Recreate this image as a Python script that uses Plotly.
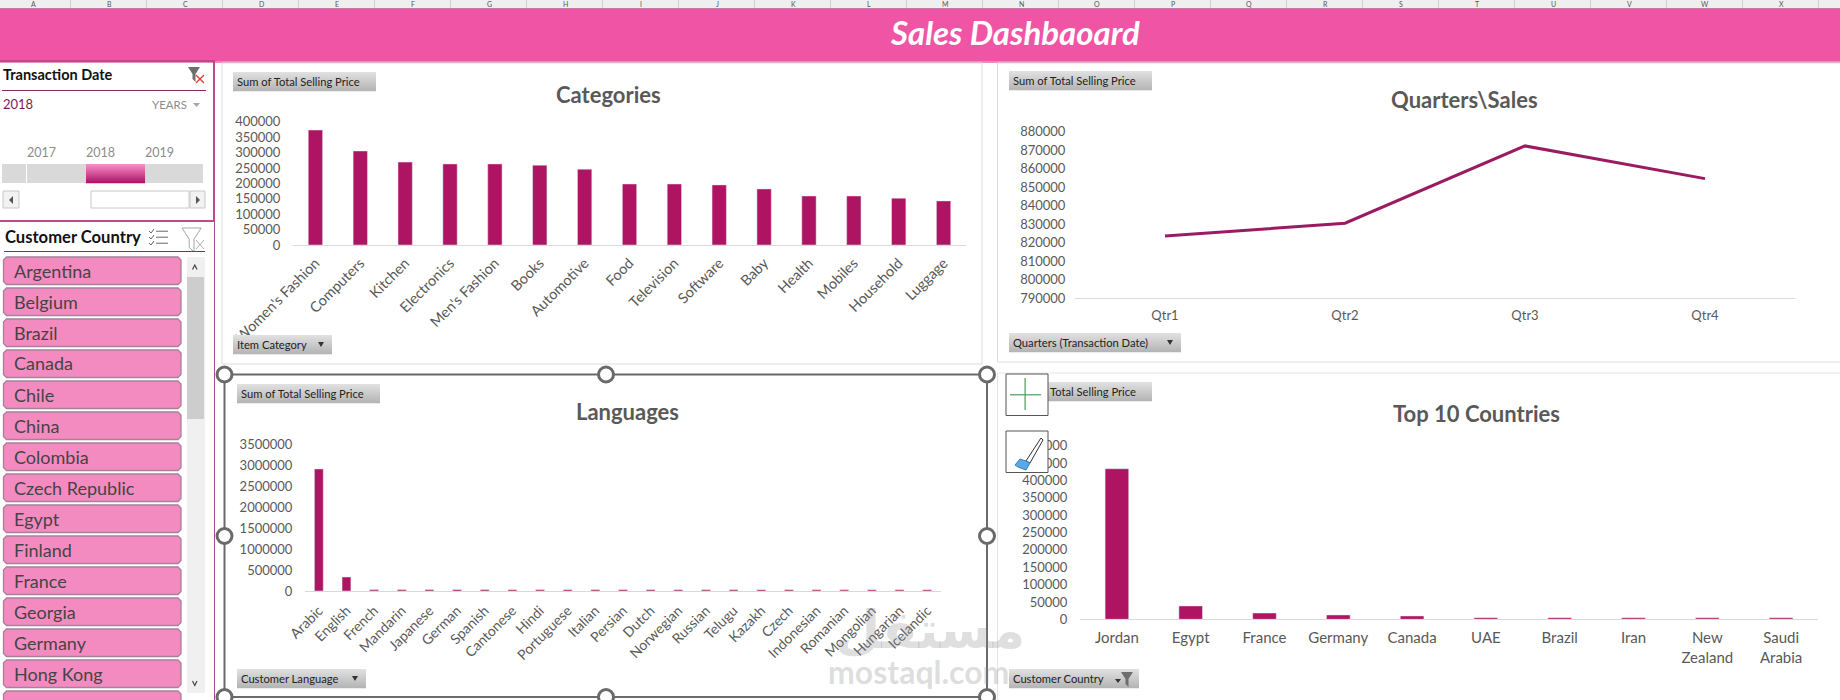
import plotly.graph_objects as go

W, H = 1840, 700

# ---------- data ----------
item_categories = ["Women's Fashion", "Computers", "Kitchen", "Electronics", "Men's Fashion", "Books",
                   "Automotive", "Food", "Television", "Software", "Baby", "Health", "Mobiles",
                   "Household", "Luggage"]
item_sales = [373000, 305000, 269000, 263000, 263000, 259000, 246000, 198000, 198000, 195000,
              182000, 159000, 159000, 152000, 143000]

quarters = ["Qtr1", "Qtr2", "Qtr3", "Qtr4"]
quarter_sales = [823500, 830500, 872300, 854600]

languages = ["Arabic", "English", "French", "Mandarin", "Japanese", "German", "Spanish", "Cantonese",
             "Hindi", "Portuguese", "Italian", "Persian", "Dutch", "Norwegian", "Russian", "Telugu",
             "Kazakh", "Czech", "Indonesian", "Romanian", "Mongolian", "Hungarian", "Icelandic"]
language_sales = [2920000, 335000, 34000, 33000, 33000, 33000, 33000, 32000, 32000, 32000, 32000,
                  32000, 32000, 31000, 31000, 31000, 31000, 31000, 31000, 30000, 30000, 30000, 30000]

top_countries = ["Jordan", "Egypt", "France", "Germany", "Canada", "UAE", "Brazil", "Iran",
                 "New<br>Zealand", "Saudi<br>Arabia"]
top_country_sales = [433600, 38500, 18000, 12500, 9600, 4500, 4500, 4300, 4300, 4200]

slicer_countries = ["Argentina", "Belgium", "Brazil", "Canada", "Chile", "China", "Colombia",
                    "Czech Republic", "Egypt", "Finland", "France", "Georgia", "Germany", "Hong Kong"]
slicer_years = ["2017", "2018", "2019"]
column_letters = list("ABCDEFGHIJKLMNOPQRSTUVWX")

# ---------- style ----------
FONT = "Lato"
BAR = "#AF1463"
LINE = "#9B1B62"
PINK = "#F054A5"
TXT = "#595959"

shapes, notes = [], []


def fx(x):
    return x / W


def fy(y):
    return 1 - y / H


def rect(x0, y0, x1, y1, fill="rgba(0,0,0,0)", line=None, lw=1, kind="rect"):
    shapes.append(dict(type=kind, xref="paper", yref="paper", x0=fx(x0), x1=fx(x1), y0=fy(y1), y1=fy(y0),
                       fillcolor=fill, line=dict(color=line or "rgba(0,0,0,0)", width=lw if line else 0),
                       layer="above"))


def poly(points, fill="rgba(0,0,0,0)", line=None, lw=1, close=True):
    p = "M " + " L ".join(f"{fx(a):.5f} {fy(b):.5f}" for a, b in points) + (" Z" if close else "")
    shapes.append(dict(type="path", xref="paper", yref="paper", path=p, fillcolor=fill,
                       line=dict(color=line or "rgba(0,0,0,0)", width=lw if line else 0), layer="above"))


def text(x, y, s, size=13, color=TXT, anchor="left", bold=False, font=FONT, italic=False):
    s2 = f"<b>{s}</b>" if bold else s
    s2 = f"<i>{s2}</i>" if italic else s2
    notes.append(dict(xref="paper", yref="paper", x=fx(x), y=fy(y), text=s2, showarrow=False,
                      xanchor=anchor, yanchor="middle", borderpad=0,
                      font=dict(family=font, size=size, color=color)))


def mix(a, b, t):
    ca = [int(a[i:i + 2], 16) for i in (1, 3, 5)]
    cb = [int(b[i:i + 2], 16) for i in (1, 3, 5)]
    return "#" + "".join(f"{round(p + (q - p) * t):02x}" for p, q in zip(ca, cb))


def gradient(x0, y0, x1, y1, top, bottom):
    n = int(y1 - y0)
    for i in range(n):
        rect(x0, y0 + i, x1, y0 + i + 1.2, fill=mix(top, bottom, i / max(n - 1, 1)))


def field_button(x0, y0, x1, label, arrow=True, text_x=None):
    gradient(x0, y0, x1, y0 + 19, "#E0E0E0", "#B5B5B5")
    text(text_x if text_x else x0 + 3, y0 + 9.5, label, size=11.2, color="#222222")
    if arrow:
        ax = x1 - 11
        poly([(ax - 3, y0 + 7), (ax + 3, y0 + 7), (ax, y0 + 12)], fill="#333333")


def funnel(x, y, s=1.0, fill="#7F7F7F", line=None):
    poly([(x, y), (x + 12 * s, y), (x + 7.5 * s, y + 7 * s), (x + 7.5 * s, y + 15 * s),
          (x + 4.5 * s, y + 12 * s), (x + 4.5 * s, y + 7 * s)], fill=fill, line=line)


# ---------- sheet chrome ----------
rect(0, 0, W, 8, fill="#EFEFEF")
for i, c in enumerate(column_letters):
    text(33 + 76 * i, 4, c, size=7, color="#555555", anchor="center")
    rect(70 + 76 * i, 0, 70.8 + 76 * i, 8, fill="#C8C8C8")
rect(0, 8, W, 9.5, fill="#C77AA5")
rect(0, 9, W, 62, fill=PINK)
rect(0, 61, W, 63, fill="#E48DBE")
text(1015, 32, "Sales Dashbaoard", size=33, color="#FFFFFF", anchor="center", bold=True, italic=True)

# chart panels
rect(222, 63, 982, 364, line="#DCDCDC")
rect(997.5, 63, W + 2, 362, line="#DCDCDC")
rect(997.5, 373, W + 2, H + 3, line="#E4E4E4")

# ---------- date slicer ----------
rect(-2, 61, 214, 221, line="#BE4A8C", lw=2)
text(2, 75, "Transaction Date", size=14.5, color="#111111", bold=True)
funnel(188, 67, 1.0, fill="#6E6E6E")
poly([(196, 75), (204, 83)], line="#D9412F", lw=1.3, close=False)
poly([(204, 75), (196, 83)], line="#D9412F", lw=1.3, close=False)
rect(2, 90, 206, 91, fill="#8A2A68")
text(2, 104, "2018", size=13, color="#7A1B5C")
text(151, 104, "YEARS", size=11.5, color="#8C8C8C")
poly([(193, 103), (200, 103), (196.5, 107)], fill="#A6A6A6")
for year, cx in zip(slicer_years, [41, 100, 159]):
    text(cx, 152.5, year, size=12.5, color="#8C8C8C", anchor="center")
rect(2, 164, 203, 183, fill="#D9D9D9")
rect(26, 164, 27, 183, fill="#FFFFFF")
gradient(86, 164, 145, 183, "#F68FC4", "#B0146A")
# timeline scrollbar
rect(3, 191, 19, 208, fill="#F2F2F2", line="#C8C8C8")
poly([(13, 196), (13, 204), (9, 200)], fill="#555555")
rect(91, 191, 189, 208, fill="#FFFFFF", line="#C8C8C8")
rect(190, 191, 205, 208, fill="#F2F2F2", line="#C8C8C8")
poly([(196, 196), (196, 204), (200, 200)], fill="#555555")

# ---------- country slicer ----------
rect(214, 221, 215, H, fill="#A24C8C")
text(4, 237, "Customer Country", size=16.6, color="#111111", bold=True)
for k, cy in enumerate([231, 237, 243]):
    poly([(149, cy), (151, cy + 2), (154, cy - 2)], line="#666666", lw=1, close=False)
    rect(156, cy - 0.3, 168, cy + 0.7, fill="#666666")
funnel(182, 228, 1.6, fill="#FFFFFF", line="#A6A6A6")
poly([(196, 240), (204, 249)], line="#B0B0B0", lw=1, close=False)
poly([(204, 240), (196, 249)], line="#B0B0B0", lw=1, close=False)
rect(4, 251, 205, 252, fill="#8A2A68")


def button(y0):
    x0, x1, y1, r = 3.5, 181, y0 + 27.5, 3
    poly([(x0 + r, y0), (x1 - r, y0), (x1, y0 + r), (x1, y1 - r), (x1 - r, y1), (x0 + r, y1), (x0, y1 - r), (x0, y0 + r)],
         fill="#F48BC0", line="#A5819A", lw=1.3)


for i, name in enumerate(slicer_countries):
    button(257 + 31 * i)
    text(13, 270.5 + 31 * i, name, size=18, color="#444444")
button(257 + 31 * 14)

rect(187, 257, 205, 693, fill="#F0F0F0")
rect(187, 277, 204, 419, fill="#CDCDCD")
poly([(192.5, 269.5), (194.8, 265), (197, 269.5)], line="#444444", lw=1.2, close=False)
poly([(192.5, 681), (194.8, 685.5), (197, 681)], line="#444444", lw=1.2, close=False)

# ---------- chart titles and field buttons ----------
text(608, 95, "Categories", size=22, anchor="center", bold=True)
text(1464, 99, "Quarters\\Sales", size=22, anchor="center", bold=True)
text(627.5, 412, "Languages", size=22, anchor="center", bold=True)
text(1476, 413, "Top 10 Countries", size=22, anchor="center", bold=True)

field_button(233, 72, 376, "Sum of Total Selling Price", arrow=False)
field_button(233, 335, 332, "Item Category")
field_button(1009, 71, 1152, "Sum of Total Selling Price", arrow=False)
field_button(1009, 333, 1181, "Quarters (Transaction Date)")
field_button(237, 384, 380, "Sum of Total Selling Price", arrow=False)
field_button(237, 669, 366, "Customer Language")
field_button(1009, 382, 1152, "Total Selling Price", arrow=False, text_x=1049)
field_button(1009, 669, 1139, "Customer Country", arrow=False)
poly([(1115, 679), (1121, 679), (1118, 683)], fill="#333333")
funnel(1121, 672, 1.0, fill="#6E6E6E")

# ---------- selection frame and handles on Languages chart ----------
frame = (224.5, 374.5, 987, 697)
rect(*frame, line="#6A6A6A", lw=2)
for hx in (224.5, 606, 987):
    for hy in (374.5, 536, 697):
        if hx == 606 and hy == 536:
            continue
        rect(hx - 7.5, hy - 7.5, hx + 7.5, hy + 7.5, fill="#FFFFFF", line="#6A6A6A", lw=3, kind="circle")

# ---------- chart tool icons on Top 10 chart ----------
rect(1006, 374, 1048, 415.5, fill="#FFFFFF", line="#555555", lw=1)
rect(1010, 394.2, 1041, 395.4, fill="#4E9A5B")
rect(1024.5, 378, 1025.7, 410, fill="#4E9A5B")
rect(1006, 431, 1048, 472.5, fill="#FFFFFF", line="#555555", lw=1)
poly([(1041, 438), (1043, 440), (1030, 463), (1026, 461)], fill="#FFFFFF", line="#333333", lw=1)
poly([(1015, 465), (1020, 459), (1026, 461), (1030, 463), (1026, 470), (1018, 467)], fill="#5AA9E6", line="#3A7FB5", lw=1)

# ---------- watermark ----------
text(930, 630, "مستقل", size=52, color="rgba(140,140,140,0.28)", anchor="center", bold=True, font="DejaVu Sans")
text(918, 671, "mostaql.com", size=32, color="rgba(140,140,140,0.30)", anchor="center", bold=True)


# ---------- charts ----------
def dom(a, b, total):
    return [a / total, b / total]


def ydom(top, bottom):
    return [1 - bottom / H, 1 - top / H]


def xaxis(x0, x1, anchor, n, angle=0, size=13, gap=6):
    return dict(domain=dom(x0, x1, W), anchor=anchor, type="category", showgrid=False, zeroline=False,
                automargin=False, range=[-0.5, n - 0.5],
                showline=True, linecolor="#D9D9D9", linewidth=1, ticks="outside", ticklen=gap,
                tickcolor="rgba(0,0,0,0)", tickangle=angle, tickfont=dict(family=FONT, size=size, color=TXT))


def yaxis(top, bottom, rng, step, anchor, gap=9):
    return dict(domain=ydom(top, bottom), anchor=anchor, range=rng, dtick=step, tick0=rng[0], showgrid=False,
                automargin=False, zeroline=False, showline=False, ticks="outside", ticklen=gap,
                tickcolor="rgba(0,0,0,0)", tickformat="d", tickfont=dict(family=FONT, size=13, color=TXT))


fig = go.Figure()
fig.add_trace(go.Bar(x=item_categories, y=item_sales, marker_color=BAR, xaxis="x", yaxis="y"))
fig.add_trace(go.Scatter(x=quarters, y=quarter_sales, mode="lines", line=dict(color=LINE, width=3),
                         xaxis="x2", yaxis="y2"))
fig.add_trace(go.Bar(x=languages, y=language_sales, marker_color=BAR, xaxis="x3", yaxis="y3"))
fig.add_trace(go.Bar(x=top_countries, y=top_country_sales, marker_color=BAR, xaxis="x4", yaxis="y4"))

fig.update_layout(
    width=W, height=H, autosize=False, margin=dict(l=0, r=0, t=0, b=0),
    paper_bgcolor="#FFFFFF", plot_bgcolor="rgba(0,0,0,0)", showlegend=False, bargap=0.68,
    font=dict(family=FONT, color=TXT),
    xaxis=xaxis(293, 966, "y", len(item_categories), -45, size=14.5, gap=3),
    yaxis=yaxis(121.7, 245, [0, 400000], 50000, "x"),
    xaxis2=xaxis(1075, 1795, "y2", len(quarters), gap=5),
    yaxis2=yaxis(131.7, 298, [790000, 880000], 10000, "x2", gap=6),
    xaxis3=xaxis(305, 941, "y3", len(languages), -45, size=14, gap=5),
    yaxis3=yaxis(444.7, 591, [0, 3500000], 500000, "x3"),
    xaxis4=xaxis(1080, 1818, "y4", len(top_countries), size=15, gap=5),
    yaxis4=yaxis(445.7, 619.3, [0, 500000], 50000, "x4"),
    shapes=shapes, annotations=notes,
)

fig.write_html("out.html", config={"displayModeBar": False},
               post_script="document.body.style.margin='0';document.body.style.overflow='hidden';")
